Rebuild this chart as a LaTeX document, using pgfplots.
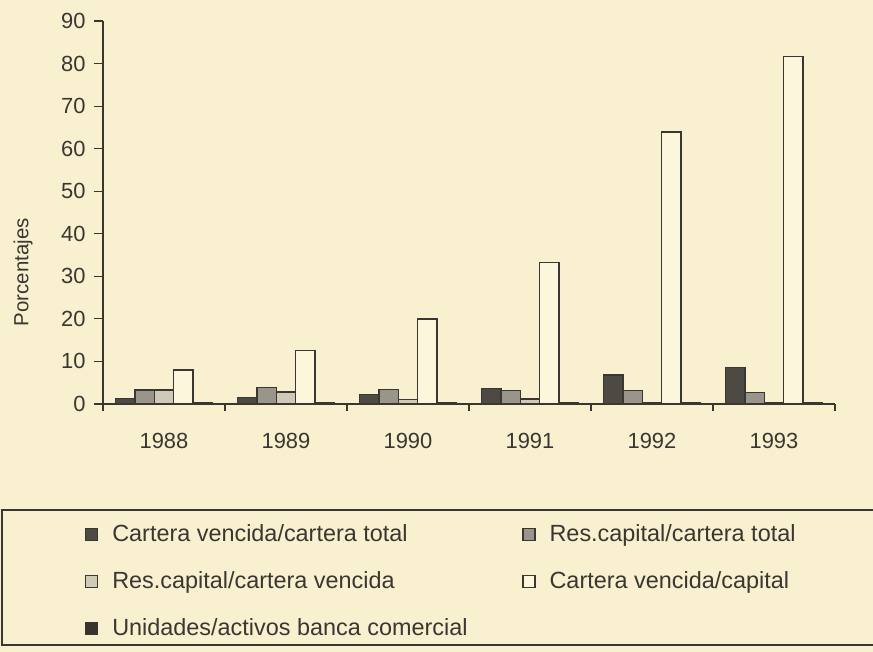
\documentclass[border=0pt]{standalone}
\usepackage{fontspec}
\setmainfont{Liberation Sans}
\usepackage{pgfplots}
\pgfplotsset{compat=1.18}
\definecolor{bg}{HTML}{F8F0CF}
\definecolor{ink}{HTML}{3A3632}
\definecolor{cA}{HTML}{4D4A44}
\definecolor{cB}{HTML}{9A958A}
\definecolor{cC}{HTML}{CFCAB8}
\definecolor{cD}{HTML}{FCF6DC}
\definecolor{cE}{HTML}{36322E}
\begin{document}
\begin{tikzpicture}
\useasboundingbox (0,0) rectangle (873bp,652bp);
\fill[bg] (0,0) rectangle (873bp,652bp);
\begin{axis}[
  at={(103bp,248bp)}, anchor=south west,
  scale only axis, width=732bp, height=383bp,
  ybar=0pt, bar width=19.4bp,
  legend image code/.code={\draw[#1] (0bp,-5bp) rectangle (12bp,7bp);},
  xmin=-0.5, xmax=5.5, ymin=0, ymax=90,
  axis lines*=left,
  axis line style={ink, line width=1.2bp},
  tick align=outside,
  every tick/.style={ink, line width=1.2bp},
  major tick length=9bp, minor tick length=7bp,
  major x tick style={draw=none},
  xtick={0,1,2,3,4,5},
  xticklabels={1988,1989,1990,1991,1992,1993},
  minor xtick={-0.5,0.5,1.5,2.5,3.5,4.5,5.5},
  ytick={0,10,...,90},
  /pgf/number format/assume math mode=true,
  tick label style={font=\fontsize{22}{26}\selectfont, text=ink},
  xticklabel style={anchor=base, yshift=-35bp},
  yticklabel style={anchor=east, xshift=-5bp},
  ylabel={Porcentajes},
  ylabel style={font=\fontsize{20.5}{24}\selectfont, text=ink, at={(axis description cs:-0.109,0.344)}, anchor=center, rotate=0},
  legend columns=2,
  legend cell align=left,
  legend style={draw=none, fill=none, at={(axis description cs:-0.0246,-0.315)}, anchor=north west,
    inner sep=0pt, outer sep=0pt,
    font=\fontsize{23.5}{28}\selectfont, text=ink,
    nodes={inner sep=0pt, outer sep=0pt, text height=17bp, text depth=5bp},
    /tikz/every odd column/.append style={column sep=14bp},
    row sep=25bp},
]
\addplot[fill=cA, draw=ink, line width=1.3bp] coordinates {(0,1.3) (1,1.6) (2,2.2) (3,3.6) (4,6.8) (5,8.6)};
\addlegendentry{\makebox[410bp][l]{Cartera vencida/cartera total}}
\addplot[fill=cB, draw=ink, line width=1.3bp] coordinates {(0,3.3) (1,3.8) (2,3.4) (3,3.2) (4,3.2) (5,2.7)};
\addlegendentry{Res.capital/cartera total}
\addplot[fill=cC, draw=ink, line width=1.3bp] coordinates {(0,3.3) (1,2.8) (2,1.1) (3,1.2) (4,0.4) (5,0.4)};
\addlegendentry{\makebox[410bp][l]{Res.capital/cartera vencida}}
\addplot[fill=cD, draw=ink, line width=1.3bp] coordinates {(0,8.0) (1,12.5) (2,20.0) (3,33.2) (4,63.9) (5,81.7)};
\addlegendentry{Cartera vencida/capital}
\addplot[fill=cE, draw=ink, line width=1.3bp] coordinates {(0,0.3) (1,0.3) (2,0.3) (3,0.3) (4,0.2) (5,0.3)};
\addlegendentry{\makebox[410bp][l]{Unidades/activos banca comercial}}
\end{axis}
\draw[ink, line width=1.8bp] (2bp,142bp) rectangle (890bp,7bp);
\end{tikzpicture}
\end{document}
